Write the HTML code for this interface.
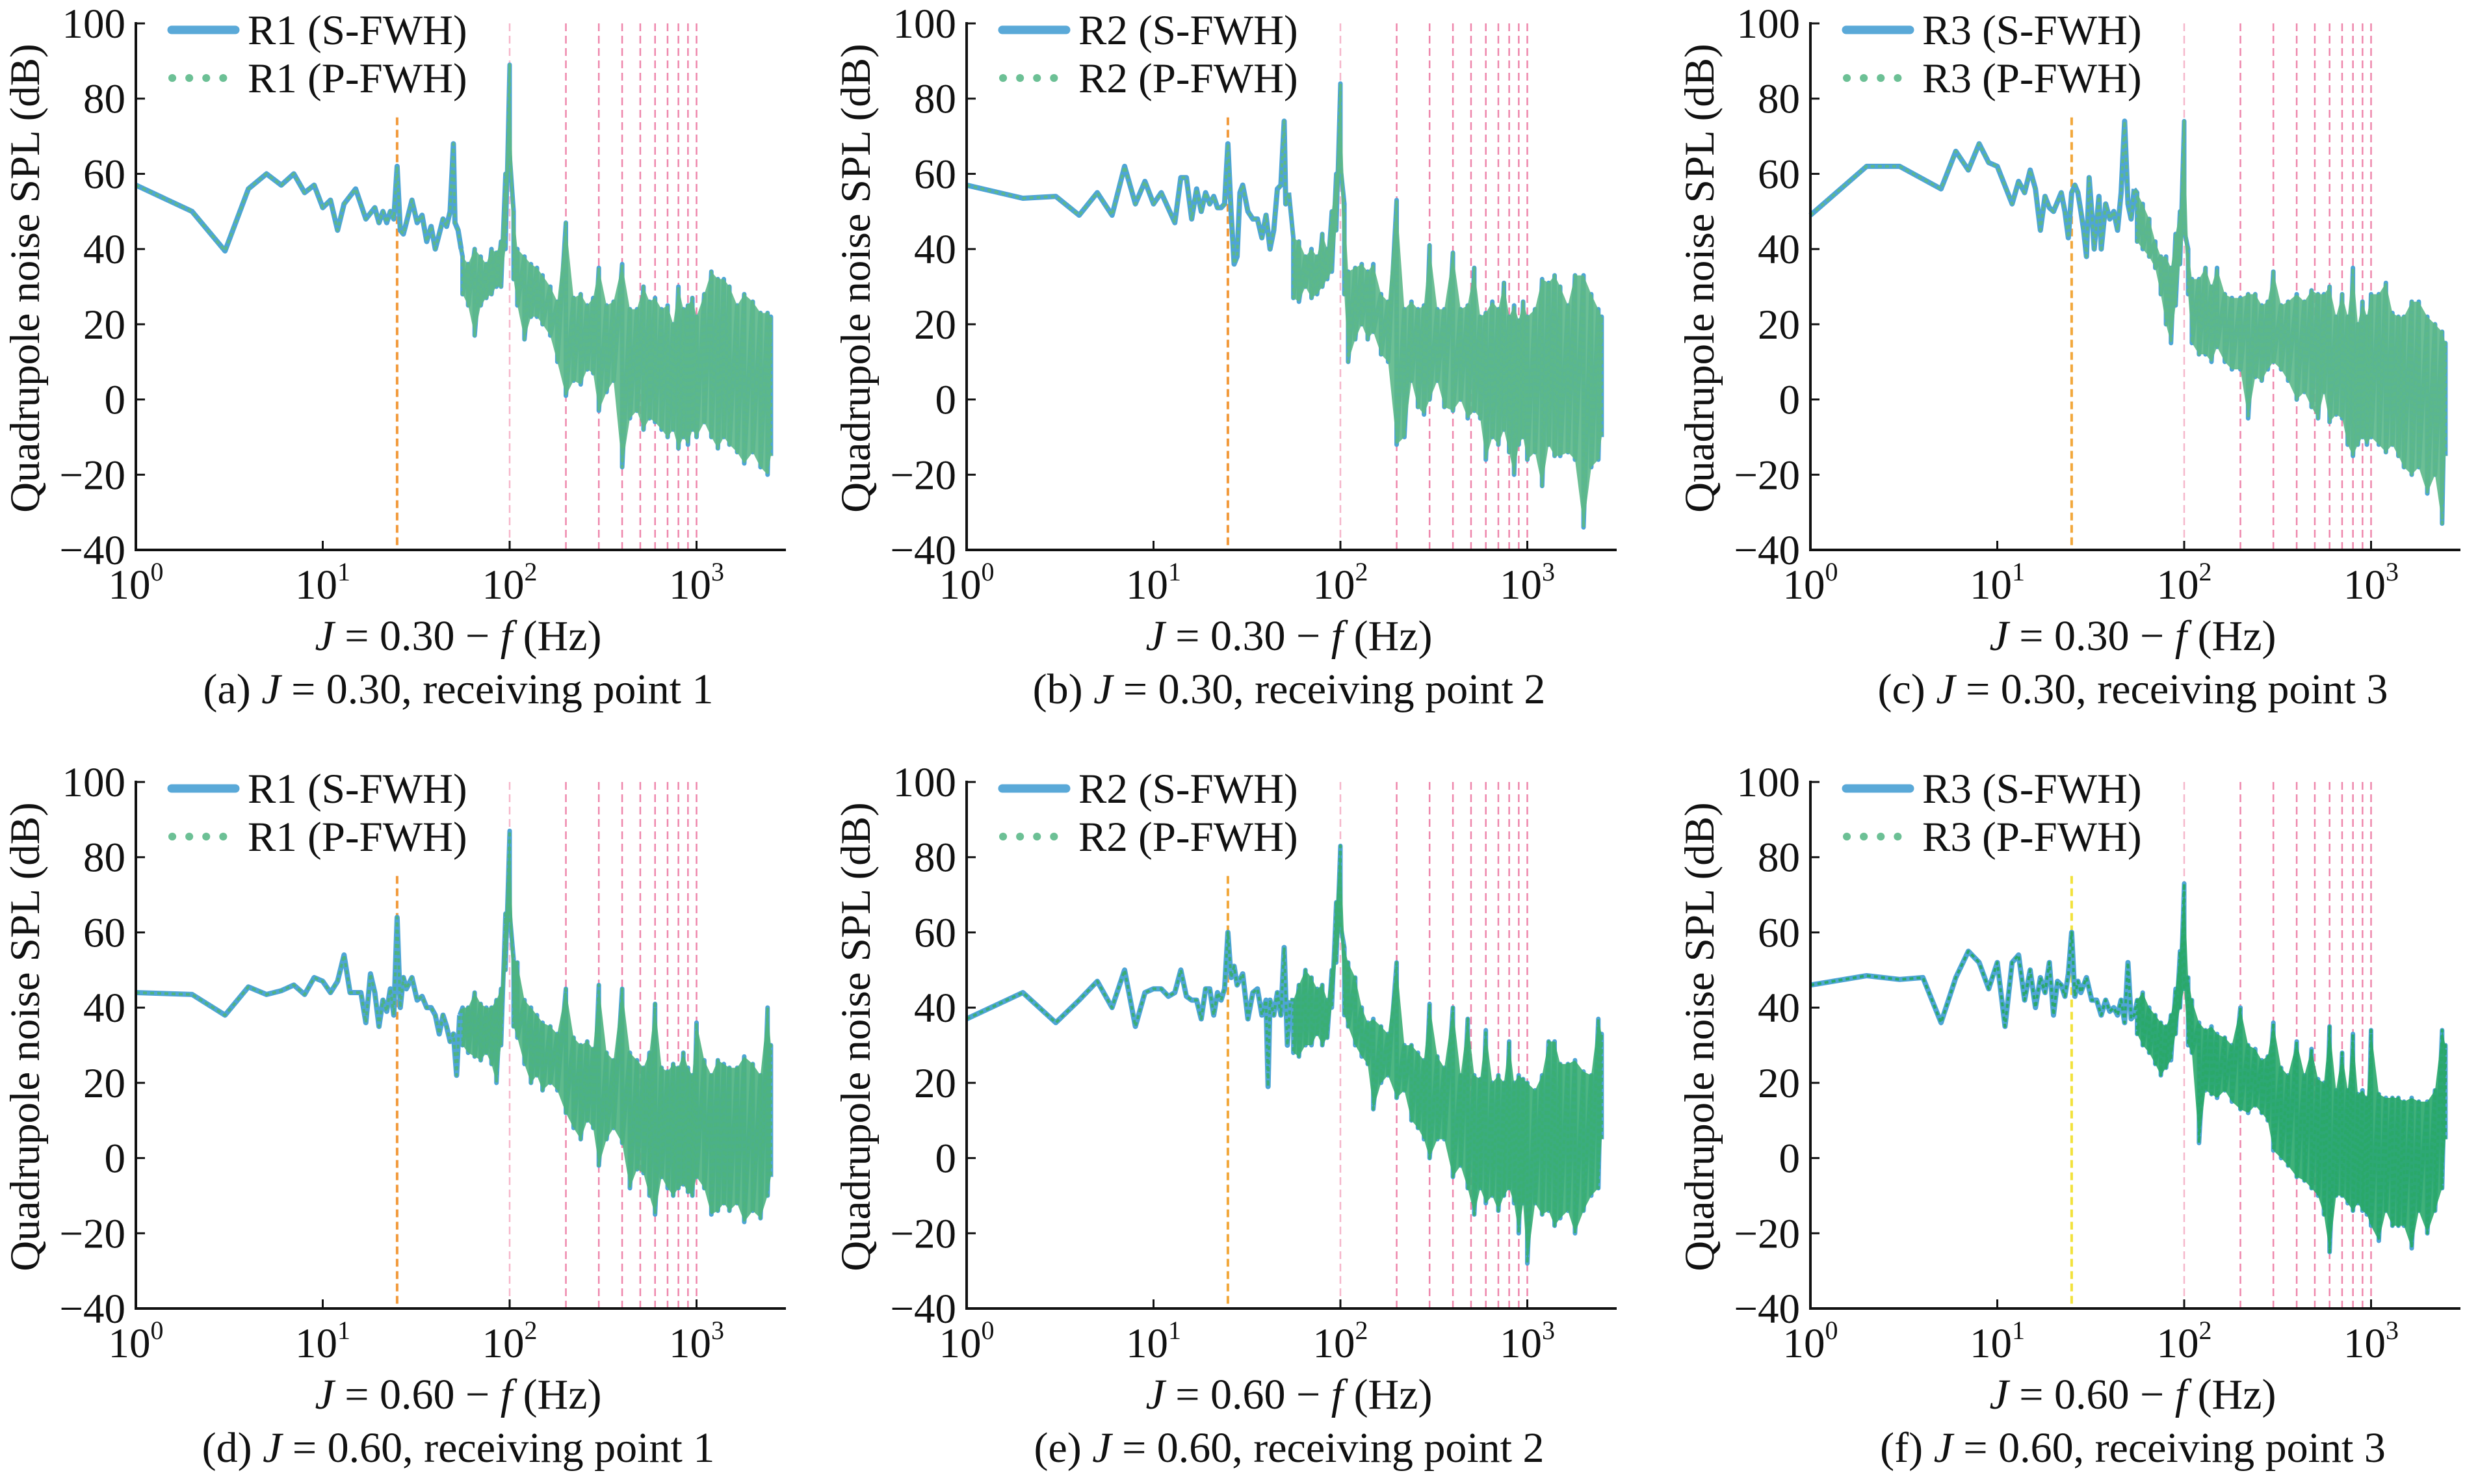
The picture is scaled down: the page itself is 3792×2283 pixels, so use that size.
<!DOCTYPE html>
<html><head><meta charset="utf-8"><style>
html,body{margin:0;padding:0;background:#fff;}
svg{display:block;font-family:"Liberation Serif",serif;}
</style></head><body>
<svg id="fig" xmlns="http://www.w3.org/2000/svg" width="3792" height="2283" viewBox="0 0 3792 2283"></svg>
<script>
// ---- data ----
const yTicks = [100, 80, 60, 40, 20, 0, -20, -40];
const xDecades = [0, 1, 2, 3];
const fBand = [56,60,65,70,75,80,85,90,95,100,105,110,120,130,140,150,165,180,200,220,240,260,280,300,330,360,400,440,480,520,560,600,650,700,750,800,850,900,950,1000,1100,1200,1300,1400,1500,1650,1800,2000,2200,2400,2500];

const aLowF = [1,2,3,4,5,6,7,8,9,10,11,12,13,15,17,19,20,21,22,23,24,25,26,27,28,30,32,34,36,38,40,42,44,46,48,50,51,53,55];
const aLowV = [57,50,39.5,56,60,57,60,55,57,51,53,45,52,56,48,51,47,50,47,50,48,62,45,44,47,53,47,49,42,46,40,44,48,46,50,68,47,45,40];
const aHi = [38,36,40,38,36,40,39,42,60,89,50,40,38,36,35,33,30,26,47,27,28,25,27,35,25,26,36,24,24,30,26,27,24,25,20,30,24,25,27,22,28,34,32,32,30,25,28,26,23,23,22];
const aLo = [28,25,17,25,27,28,30,30,40,65,32,25,16,22,22,20,17,10,1,5,4,8,7,-3,2,5,-18,-5,-3,-8,-5,-6,-8,-10,-8,-13,-10,-12,-8,-10,-6,-10,-13,-10,-12,-14,-17,-14,-18,-20,-15];

const bLowF = [1,2,3,4,5,6,7,8,9,10,11,13,14,15,16,17,18,19,20,21,22,23,24,25,26,27,28,29,30,32,34,36,38,40,42,44,46,48,50,51,53];
const bLowV = [57,53.5,54,49,55,49,62,52,58,52,55,47,59,59,48,56,50,55,52,54,51,51,52,68,50,36,38,55,57,50,48,48,43,49,40,45,56,57,74,52,55];
const bHi = [43,42,38,40,38,44,40,50,60,84,52,34,35,36,34,36,28,26,53,24,26,24,25,41,24,24,39,24,25,35,22,23,26,24,31,22,25,21,26,22,24,32,31,33,30,25,33,33,28,24,22];
const bLo = [27,26,30,27,28,30,32,34,45,62,28,10,16,20,16,18,12,10,-12,-10,5,-2,-4,0,5,-2,-3,0,-5,-3,-5,-16,-10,-12,-8,-14,-20,-12,-10,-16,-14,-23,-12,-15,-15,-14,-16,-34,-18,-16,-10];

const cLowF = [1,2,3,5,6,7,8,9,10,12,13,14,15,16,17,18,19,20,22,23,24,25,26,27,28,29,30,31,32,33,35,36,38,40,42,44,46,48,50,52,54];
const cLowV = [49,62,62,56,66,61,68,63,62,52,58,55,61,56,45,54,51,50,55,50,43,55,57,55,50,45,38,59,50,40,54,40,52,48,50,45,55,74,52,48,56];
const cHi = [55,52,48,42,38,38,35,44,50,74,40,32,32,35,30,35,28,27,27,28,28,25,26,34,25,26,28,26,29,28,28,30,22,28,22,35,20,26,22,28,28,31,23,22,22,26,26,22,20,18,15];
const cLo = [42,40,38,35,28,20,15,25,36,45,28,15,12,12,10,14,10,8,8,-5,6,5,8,10,8,5,0,2,-2,-5,2,-6,-4,-5,-12,-15,-12,-10,-12,-10,-12,-14,-12,-15,-18,-20,-18,-25,-20,-33,-15];

const dLowF = [1,2,3,4,5,6,7,8,9,10,11,12,13,14,16,17,18,19,20,21,22,23,24,25,26,27,28,30,32,34,36,38,40,42,44,46,48,50,52,54];
const dLowV = [44,43.5,38,45.5,43.5,44.5,46,43.5,48,47,44,47,54,44,44,36,49,44,35,42,39,45,38,64,40,48,45,48,42,43,40,40,38,33,38,35,31,33,22,38];
const dHi = [40,40,44,41,40,40,42,45,65,87,53,52,42,40,38,36,35,33,45,32,30,31,29,46,28,26,45,28,26,24,28,41,24,23,25,24,28,24,22,36,26,22,26,25,24,24,27,25,22,40,30];
const dLo = [30,28,27,26,28,25,20,30,50,65,35,32,25,20,22,18,20,18,12,8,5,10,8,-2,5,8,4,-8,-3,-4,-10,-15,-5,-8,-10,-8,-7,-9,-10,-5,-8,-15,-14,-12,-14,-12,-17,-14,-16,-10,-5];

const eLowF = [1,2,3,4,5,6,7,8,9,10,11,12,13,14,15,16,17,18,19,20,21,22,23,24,25,26,27,28,30,32,34,36,38,40,41,42,44,46,48,50,52,54];
const eLowV = [37,44,36,42,47,40,50,35,44,45,45,43,44,50,43,42,42,37,45,45,38,44,42,45,60,48,51,46,49,37,44,45,38,42,19,42,38,44,38,56,30,42];
const eHi = [42,46,50,48,45,46,42,50,68,83,56,52,48,40,36,37,35,33,52,30,30,28,26,41,27,24,40,22,37,22,21,34,20,22,20,31,20,22,21,20,18,22,31,31,25,25,26,23,22,37,33];
const eLo = [28,27,30,30,33,30,32,40,52,62,38,35,30,27,25,13,20,22,16,18,10,8,5,0,5,5,-5,-2,-8,-15,-8,-12,-10,-14,-10,-8,-12,-20,-12,-28,-12,-15,-14,-18,-16,-14,-20,-14,-10,-8,5];

const fLowF = [1,2,3,4,5,6,7,8,9,10,11,12,13,14,15,16,17,18,19,20,21,22,23,24,25,26,27,28,30,32,34,36,38,40,42,44,46,48,50,52,54];
const fLowV = [46,48.5,47.5,48,36,48,55,52,45,52,35,52,54,42,50,40,48,44,52,38,47,46,43,49,60,43,47,44,48,42,42,38,42,39,40,38,42,36,52,37,38];
const fHi = [42,44,40,38,36,35,38,45,55,73,48,42,36,34,35,33,32,30,40,30,29,26,27,36,24,22,31,22,29,21,20,35,18,28,18,33,17,18,16,34,17,16,16,16,15,16,15,15,18,34,30];
const fLo = [33,30,28,25,22,24,26,33,40,45,30,28,4,18,17,16,18,15,13,12,14,12,10,2,0,-2,-5,-6,-8,-10,-15,-25,-10,-10,-12,-14,-12,-14,-15,-18,-22,-14,-18,-18,-18,-24,-14,-20,-14,-8,5];

const harmF = [100,200,300,400,500,600,700,800,900,1000];
const bladeF = [25];

const panels = [
  {id:'a', x0:209, yTop:36, r:'R1', J:'0.30', pt:'1', lowF:aLowF, lowV:aLowV, hi:aHi, lo:aLo, blade:'#f29a3c', green:'#5cb88a'},
  {id:'b', x0:1487, yTop:36, r:'R2', J:'0.30', pt:'2', lowF:bLowF, lowV:bLowV, hi:bHi, lo:bLo, blade:'#f29a3c', green:'#5cb88a'},
  {id:'c', x0:2785, yTop:36, r:'R3', J:'0.30', pt:'3', lowF:cLowF, lowV:cLowV, hi:cHi, lo:cLo, blade:'#f2a83c', green:'#5cb88a'},
  {id:'d', x0:209, yTop:1203, r:'R1', J:'0.60', pt:'1', lowF:dLowF, lowV:dLowV, hi:dHi, lo:dLo, blade:'#f29a3c', green:'#4db380'},
  {id:'e', x0:1487, yTop:1203, r:'R2', J:'0.60', pt:'2', lowF:eLowF, lowV:eLowV, hi:eHi, lo:eLo, blade:'#f2a83c', green:'#3aae74'},
  {id:'f', x0:2785, yTop:1203, r:'R3', J:'0.60', pt:'3', lowF:fLowF, lowV:fLowV, hi:fHi, lo:fLo, blade:'#f2e23c', green:'#2aa86a'}
];

// ---- drawing ----
const NS = 'http://www.w3.org/2000/svg';
const svg = document.getElementById('fig');
const DEC = 287.5, PXDB = 810/140;
function mk(tag, attrs, parent){
  const e = document.createElementNS(NS, tag);
  for (const k in attrs) e.setAttribute(k, attrs[k]);
  parent.appendChild(e);
  return e;
}
panels.forEach(p => {
  const X = f => p.x0 + DEC*Math.log10(f);
  const Y = v => p.yTop + (100 - v)*PXDB;
  const yBot = Y(-40);
  const g = mk('g', {}, svg);
  
  

  bladeF.forEach(f => {
    const l = mk('line', {x1:X(f), x2:X(f), y1:Y(75), y2:yBot, stroke:p.blade, 'stroke-width':4, 'stroke-dasharray':'12 7'}, g);
    
    
  });
  harmF.forEach((f, i) => {
    const l = mk('line', {x1:X(f), x2:X(f), y1:Y(100), y2:yBot, stroke: i===0 ? '#f6b7cb' : '#e8558a', 'stroke-width':2.5, 'stroke-dasharray':'12 7', opacity: i===0 ? 1 : 0.7}, g);
    
    
  });

  // low-frequency line
  let d = '';
  p.lowF.forEach((f, i) => { d += (i ? 'L' : 'M') + X(f).toFixed(1) + ',' + Y(p.lowV[i]).toFixed(1); });
  // band zigzag
  let z = 'M' + X(p.lowF[p.lowF.length-1]).toFixed(1) + ',' + Y(p.lowV[p.lowV.length-1]).toFixed(1);
  fBand.forEach((f, i) => { z += 'L' + X(f).toFixed(1) + ',' + Y(p.hi[i]).toFixed(1) + 'L' + X(f).toFixed(1) + ',' + Y(p.lo[i]).toFixed(1); });
  d += z.replace(/^M/, 'L');

  const sb = mk('path', {d:z, fill:'none', stroke:'#4ea5d6', 'stroke-width':7, 'stroke-linejoin':'round'}, g);
  
  

  let fill = '';
  fBand.forEach((f, i) => { fill += (i ? 'L' : 'M') + X(f).toFixed(1) + ',' + Y(p.hi[i]).toFixed(1); });
  for (let i = fBand.length - 1; i >= 0; i--) fill += 'L' + X(fBand[i]).toFixed(1) + ',' + Y(p.lo[i]).toFixed(1);
  const band = mk('path', {d:fill + 'Z', fill:p.green, opacity:0.9}, g);
  
  

  let dl = '';
  p.lowF.forEach((f, i) => { dl += (i ? 'L' : 'M') + X(f).toFixed(1) + ',' + Y(p.lowV[i]).toFixed(1); });
  const s = mk('path', {d:dl, fill:'none', stroke:'#4ea5d6', 'stroke-width':8, 'stroke-linejoin':'round'}, g);
  
  
  const pf = mk('path', {d:d, fill:'none', stroke:p.green, 'stroke-width':4, 'stroke-dasharray':'6 5', 'stroke-linejoin':'round'}, g);
  
  

  const ya = mk('line', {x1:p.x0, x2:p.x0, y1:Y(100)-2, y2:yBot+2, stroke:'#111', 'stroke-width':4}, g);
  
  
  const xa = mk('line', {x1:p.x0-2, x2:p.x0+1000, y1:yBot, y2:yBot, stroke:'#111', 'stroke-width':4}, g);
  
  

  yTicks.forEach(v => {
    mk('line', {x1:p.x0, x2:p.x0+14, y1:Y(v), y2:Y(v), stroke:'#111', 'stroke-width':3}, g);
    const t = mk('text', {x:p.x0-16, y:Y(v)+22, 'font-size':65, 'text-anchor':'end', fill:'#111'}, g);
    t.textContent = v < 0 ? '\u2212' + Math.abs(v) : String(v);
    
    
  });
  xDecades.forEach(k => {
    const x = p.x0 + DEC*k;
    mk('line', {x1:x, x2:x, y1:yBot, y2:yBot-14, stroke:'#111', 'stroke-width':3}, g);
    const t = mk('text', {x:x, y:yBot+75, 'font-size':65, 'text-anchor':'middle', fill:'#111'}, g);
    t.innerHTML = '10<tspan font-size="40" dy="-28">' + k + '</tspan>';
    
    
  });

  const yl = mk('text', {transform:'translate(' + (p.x0-149) + ',' + (p.yTop+392) + ') rotate(-90)', 'font-size':65, 'text-anchor':'middle', fill:'#111'}, g);
  yl.textContent = 'Quadrupole noise SPL (dB)';
  
  
  const xl = mk('text', {x:p.x0+496, y:yBot+154, 'font-size':66, 'text-anchor':'middle', fill:'#111'}, g);
  xl.innerHTML = '<tspan font-style="italic">J</tspan> = ' + p.J + ' \u2212 <tspan font-style="italic">f</tspan> (Hz)';
  
  
  const cap = mk('text', {x:p.x0+496, y:yBot+236, 'font-size':66, 'text-anchor':'middle', fill:'#111'}, g);
  cap.innerHTML = '(' + p.id + ') <tspan font-style="italic">J</tspan> = ' + p.J + ', receiving point ' + p.pt;
  
  

  const ly1 = p.yTop + 10, ly2 = p.yTop + 84;
  const l1 = mk('line', {x1:p.x0+55, x2:p.x0+153, y1:ly1, y2:ly1, stroke:'#5aa9d8', 'stroke-width':13, 'stroke-linecap':'round'}, g);
  
  
  const l2 = mk('line', {x1:p.x0+56, x2:p.x0+156, y1:ly2, y2:ly2, stroke:'#6cc095', 'stroke-width':12, 'stroke-linecap':'round', 'stroke-dasharray':'0.1 26'}, g);
  
  
  const t1 = mk('text', {x:p.x0+172, y:ly1+22, 'font-size':65, fill:'#111'}, g);
  t1.textContent = p.r + ' (S-FWH)';
  
  
  const t2 = mk('text', {x:p.x0+172, y:ly2+22, 'font-size':65, fill:'#111'}, g);
  t2.textContent = p.r + ' (P-FWH)';
  
  
});
</script>
</body></html>
